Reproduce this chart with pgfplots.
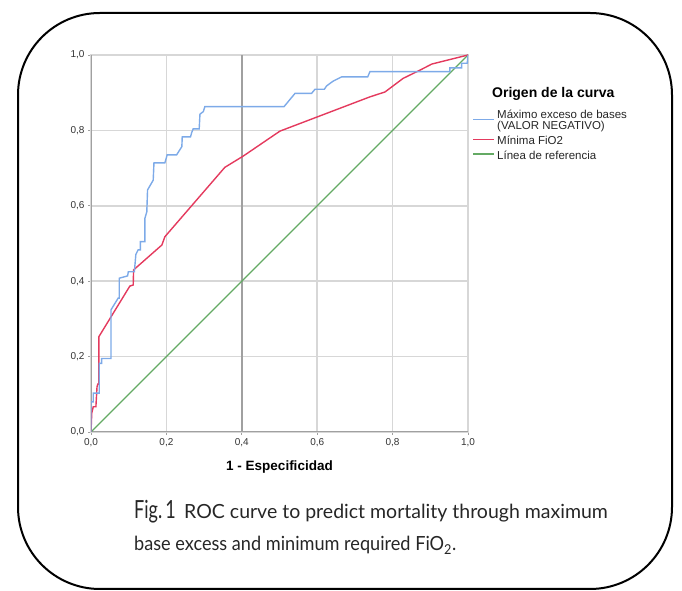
\documentclass[border=0pt]{standalone}
\usepackage{fontspec}
\setmainfont{Liberation Sans}
\newfontfamily\capfont[FakeStretch=0.93]{Lato}
\newfontfamily\capfontw{Lato}
\newfontfamily\figfont[FakeStretch=0.72]{Lato}
\usepackage{pgfplots}
\pgfplotsset{compat=1.18}
\definecolor{rocB}{RGB}{125,170,232}
\definecolor{rocR}{RGB}{228,58,94}
\definecolor{rocG}{RGB}{100,170,100}
\definecolor{gridc}{RGB}{215,215,215}
\definecolor{axc}{RGB}{160,160,160}

\begin{document}
\begin{tikzpicture}[x=1pt,y=1pt]
\useasboundingbox (0,0) rectangle (682,591);
\draw[line width=2pt, rounded corners=82pt] (18,2) rectangle (672,578);

\begin{axis}[at={(91pt,159pt)}, anchor=origin, scale only axis,
  width=377pt, height=377pt, xmin=0, xmax=1, ymin=0, ymax=1,
  xtick={0,0.2,0.4,0.6,0.8,1}, ytick={0,0.2,0.4,0.6,0.8,1},
  grid=major, major grid style={gridc, line width=1.5pt},
  axis line style={gridc, line width=1.5pt},
  tick align=outside, major tick length=3pt, tick style={axc, line width=0.8pt},
  xtick pos=bottom, ytick pos=left,
  /pgf/number format/.cd, fixed, fixed zerofill, precision=1, use comma, assume math mode=true,
  /pgfplots/.cd,
  ticklabel style={font=\fontsize{10}{12}\selectfont, text=black!80},
  xlabel={\textbf{1 - Especificidad}}, xlabel style={font=\fontsize{13.5}{15}\selectfont, yshift=-7pt},
  every axis plot/.append style={line width=1.4pt}]
  \draw[axc, line width=1.5pt] (axis cs:0.4,0) -- (axis cs:0.4,1);
  \draw[axc, line width=1.6pt] (axis cs:0,1) -- (axis cs:0,0) -- (axis cs:1,0);
  \addplot[rocG] coordinates {(0,0) (1,1)};
  \addplot[rocR] coordinates {(0,0) (0.002,0.050) (0.006,0.067) (0.013,0.067) (0.016,0.120) (0.018,0.127) (0.021,0.127) (0.021,0.253) (0.103,0.387) (0.112,0.390) (0.113,0.430) (0.188,0.496) (0.196,0.518) (0.355,0.702) (0.404,0.732) (0.501,0.798) (0.740,0.889) (0.780,0.902) (0.828,0.938) (0.873,0.960) (0.904,0.976) (1,1)};
  \addplot[rocB] coordinates {(0,0) (0,0.080) (0.006,0.080) (0.006,0.103) (0.022,0.103) (0.022,0.182) (0.028,0.182) (0.028,0.195) (0.053,0.195) (0.053,0.324) (0.072,0.355) (0.075,0.355) (0.075,0.408) (0.097,0.414) (0.099,0.425) (0.115,0.425) (0.119,0.471) (0.125,0.483) (0.131,0.483) (0.131,0.505) (0.143,0.505) (0.143,0.567) (0.148,0.584) (0.150,0.642) (0.165,0.668) (0.167,0.714) (0.196,0.714) (0.202,0.735) (0.227,0.735) (0.241,0.757) (0.242,0.783) (0.264,0.783) (0.267,0.794) (0.271,0.804) (0.287,0.804) (0.289,0.843) (0.298,0.850) (0.302,0.863) (0.512,0.863) (0.541,0.898) (0.585,0.898) (0.594,0.909) (0.619,0.909) (0.625,0.918) (0.637,0.927) (0.643,0.931) (0.665,0.942) (0.734,0.942) (0.740,0.956) (0.952,0.956) (0.952,0.966) (0.983,0.966) (0.983,0.978) (0.998,0.978) (1,1)};
\end{axis}

% legend
\node[anchor=base west, inner sep=0pt, font=\bfseries\fontsize{14}{16}\selectfont] at (492,493) {Origen de la curva};
\draw[rocB, line width=1.4pt] (473,471.7) -- (494,471.7);
\draw[rocR, line width=1.4pt] (473,451.7) -- (494,451.7);
\draw[rocG, line width=1.4pt] (473,437) -- (494,437);
\begin{scope}[every node/.style={anchor=base west, inner sep=0pt, font=\fontsize{11.5}{12}\selectfont, text=black!85}]
\node at (497,472.3) {Máximo exceso de bases};
\node at (497,461) {(VALOR NEGATIVO)};
\node at (497,446.7) {Mínima FiO2};
\node at (497,431.7) {Línea de referencia};
\end{scope}

% caption
\node[anchor=base west, inner sep=0pt, text=black!85] at (134,72) {\figfont\fontsize{25}{30}\selectfont Fig.\kern3pt 1};
\node[anchor=base west, inner sep=0pt, text=black!85] at (184,72) {\capfontw\fontsize{19.5}{22}\selectfont ROC curve to predict mortality through maximum};
\node[anchor=base west, inner sep=0pt, text=black!85] at (134,40) {\capfont\fontsize{19.5}{22}\selectfont base excess and minimum required FiO\textsubscript{2}.};
\end{tikzpicture}
\end{document}
